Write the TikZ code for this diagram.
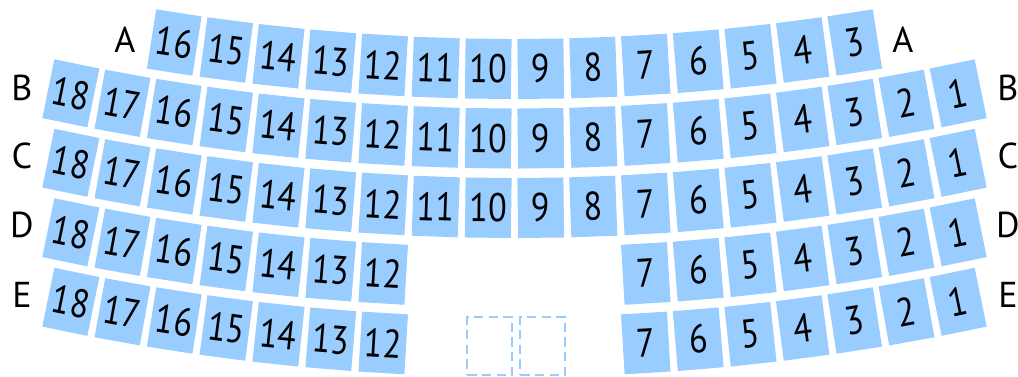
\documentclass[tikz,border=0pt]{standalone}
\usepackage{fontspec}
\setmainfont{PT Sans}
\newfontfamily\seatfont[FakeStretch=0.85]{PT Sans}
\definecolor{seatblue}{RGB}{153,204,255}

\begin{document}
\begin{tikzpicture}[x=0.75pt, y=0.75pt,
    seat/.style={fill=seatblue, inner sep=0pt, minimum width=34.5pt, minimum height=45pt,
      font=\seatfont\fontsize{30}{30}\selectfont},
    rowlabel/.style={inner sep=0pt, font=\fontsize{27}{27}\selectfont},
    space/.style={draw=seatblue, line width=1.5pt, dash pattern=on 7pt off 4pt,
      minimum width=33.5pt, minimum height=44pt, inner sep=0pt}]
    \useasboundingbox (0,0) rectangle (1018,377);

    % Seats, row by row (numbered right to left along the arc)
    \foreach \row/\yrow/\seats in {A/308/{3,...,16}, B/238.5/{1,...,18}, C/169/{1,...,18},
        D/99.5/{1,2,3,4,5,6,7,12,13,14,15,16,17,18}, E/30/{1,2,3,4,5,6,7,12,13,14,15,16,17,18}} {
      \foreach \k in \seats {
        \pgfmathsetmacro{\ang}{(9.5-\k)*1.365}
        \node[seat, rotate=\ang] (seat\row\k) at ({514.5+2206*sin(\ang)}, {\yrow+2206*(1-cos(\ang))}) {\k};
      }
    }

    % Wheelchair spaces
    \node[space] (space1) at (489.5,31) {};
    \node[space] (space2) at (542.5,31) {};

    % Row letters
    \node[rowlabel] (A-left) at (125,337) {A};
    \node[rowlabel] (A-right) at (903,337) {A};
    \foreach \row/\yl in {B/289.5, C/221, D/152, E/82} {
      \node[rowlabel] (\row-left) at (22,\yl) {\row};
      \node[rowlabel] (\row-right) at (1008,\yl) {\row};
    }
\end{tikzpicture}
\end{document}
